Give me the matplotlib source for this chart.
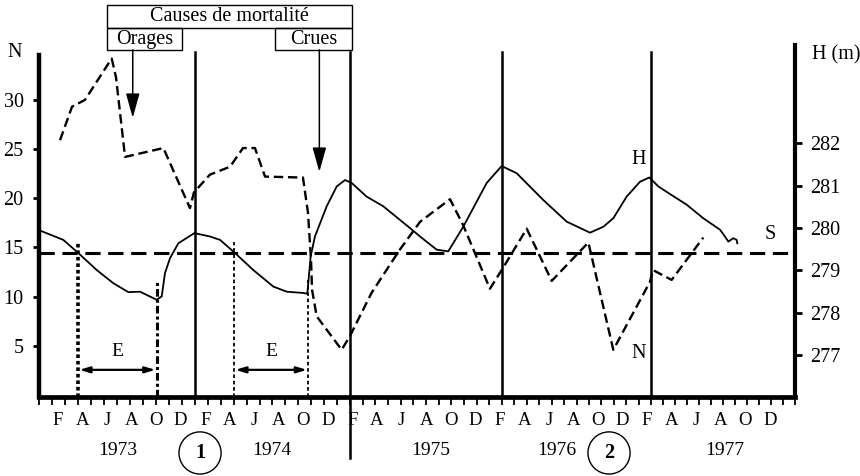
import numpy as np
import matplotlib
matplotlib.use('Agg')
import matplotlib.pyplot as plt
from matplotlib.patches import Rectangle

plt.rcParams['font.family'] = ['Liberation Serif', 'DejaVu Serif']

# --- données (x en mois depuis janvier 1973) ---
# N : effectif (pointillés)
N_month = [1.67, 2.62, 3.65, 5.77, 6.11, 6.83, 9.87, 11.98, 12.30, 13.57,
           15.16, 16.19, 17.14, 17.94, 20.95, 21.35, 21.59, 21.67, 22.04, 24.02,
           24.68, 26.40, 28.65, 30.24, 32.62, 33.65, 35.79, 36.72, 38.71, 40.69,
           43.60, 45.58, 48.49, 48.73, 50.21, 52.72]
N_val = [25.9, 29.3, 30.0, 34.2, 32.3, 24.2, 25.1, 19.0, 20.6, 22.4,
         23.2, 25.1, 25.1, 22.2, 22.1, 18.5, 13.7, 10.7, 8.0, 4.6,
         6.0, 10.4, 14.8, 17.6, 19.9, 17.3, 10.8, 12.7, 16.9, 11.6,
         15.5, 4.6, 11.5, 12.7, 11.7, 16.0]

# H : cote du plan d'eau (m)
H_month = [0.08, 1.93, 3.12, 4.58, 5.90, 7.09, 8.02, 9.34, 9.74, 10.0,
           10.4, 11.06, 12.33, 13.57, 14.37, 15.56, 17.01, 18.6, 19.66, 20.98,
           21.29, 21.37, 21.56, 21.9, 22.83, 23.63, 24.29, 24.82, 26.0, 27.33,
           28.65, 29.44, 30.24, 31.56, 32.48, 33.67, 35.53, 36.72, 37.91, 40.02,
           41.88, 43.73, 44.79, 45.58, 46.64, 47.70, 48.44, 49.15, 50.08, 51.40,
           52.72, 54.05, 54.44, 54.71, 55.10, 55.37, 55.42]
H_val = [279.94, 279.72, 279.41, 279.01, 278.70, 278.49, 278.50, 278.31, 278.39, 278.94,
         279.29, 279.64, 279.88, 279.80, 279.72, 279.41, 279.01, 278.62, 278.50, 278.47,
         278.45, 278.70, 279.33, 279.80, 280.51, 280.98, 281.13, 281.06, 280.74, 280.51,
         280.19, 280.00, 279.80, 279.49, 279.45, 280.03, 281.06, 281.46, 281.29, 280.66,
         280.15, 279.89, 280.03, 280.23, 280.74, 281.09, 281.19, 280.98, 280.80, 280.55,
         280.23, 279.96, 279.80, 279.68, 279.76, 279.72, 279.64]

S_level = 279.41

year_lines = [12.38, 24.68, 36.75, 48.57]
month_letters = ['F', 'A', 'J', 'A', 'O', 'D'] * 5
years = ['1973', '1974', '1975', '1976', '1977']
year_pos = [6.27, 18.5, 31.1, 41.1, 54.4]
circle_labels = ['1', '2']
circle_pos = [12.78, 45.24]

# périodes E (étiage)
E_start = [3.1, 15.48]
E_end = [9.34, 21.37]
E_top = [15.6, 11.7]

N_ticks = [5, 10, 15, 20, 25, 30]
H_ticks = [277, 278, 279, 280, 281, 282]

# --- figure ---
fig = plt.figure(figsize=(8.6, 4.76), dpi=100)
ax = fig.add_axes([39 / 860, 79 / 476, 756 / 860, 352 / 476])
ax2 = ax.twinx()

n_lo = -0.2
n_hi = n_lo + 352 / 9.84
h_lo = 276.02
h_hi = h_lo + 352 / 42.46
ax.set_xlim(0, 60)
ax.set_ylim(n_lo, n_hi)
ax2.set_ylim(h_lo, h_hi)

for s in ['top', 'right']:
    ax.spines[s].set_visible(False)
for s in ['top', 'left', 'bottom']:
    ax2.spines[s].set_visible(False)
ax.spines['left'].set_linewidth(3.2)
ax.spines['left'].set_bounds(n_lo, 34.6)
ax.spines['bottom'].set_linewidth(3.4)
ax2.spines['right'].set_linewidth(3.0)

# axes graduations
month_ticks = np.interp(np.arange(61), [0, 12, 24, 36, 48, 60],
                        [0] + year_lines + [60])
ax.set_xticks(month_ticks)
ax.set_xticklabels([])
ax.set_xticks(np.linspace(1.5, 58.0, 30), month_letters, minor=True)
ax.tick_params(axis='x', which='major', direction='out', length=6, width=1.3)
ax.tick_params(axis='x', which='minor', length=0, pad=11, labelsize=13.5)

ax.set_yticks(N_ticks)
ax.tick_params(axis='y', direction='out', length=4, width=2, pad=7, labelsize=14.5)
ax2.set_yticks(H_ticks)
ax2.tick_params(axis='y', direction='out', length=5, width=2, pad=6, labelsize=14.5)

# séparations annuelles
for i, xl in enumerate(year_lines):
    y0 = -6.38 if i == 1 else n_lo
    ax.plot([xl, xl], [y0, 34.88], color='black', lw=1.8, clip_on=False, zorder=3)

# séries
ax.plot(N_month, N_val, color='black', lw=1.7, ls=(0, (4, 2)), zorder=4,
        solid_joinstyle='round')
ax2.plot(H_month, H_val, color='black', lw=1.3, zorder=4, solid_joinstyle='round')
ax2.axhline(S_level, color='black', lw=2.2, ls=(0, (5, 2.5)), zorder=2)

# périodes E
styles = [(0, (1, 0.8)), (0, (2.5, 1, 1, 1)), (0, (2, 1.5)), (0, (2, 1.5))]
widths = [2.6, 2.2, 1.3, 1.3]
xs = [E_start[0], E_end[0], E_start[1], E_end[1]]
tops = [E_top[0], E_top[1], E_top[0], E_top[1]]
for xv, tp, st, w in zip(xs, tops, styles, widths):
    ax.plot([xv, xv], [n_lo, tp], color='black', lw=w, ls=st, zorder=3)
for a, b in zip(E_start, E_end):
    ax.annotate('', xy=(b - 0.1, 2.56), xytext=(a + 0.1, 2.56),
                arrowprops=dict(arrowstyle='<|-|>,head_length=0.6,head_width=0.18',
                                color='black', lw=1.6, shrinkA=0, shrinkB=0,
                                mutation_scale=10))
    ax.text((a + b) / 2, 4.4, 'E', ha='center', va='center', fontsize=14)

# causes de mortalité
ax.add_patch(Rectangle((5.37, 37.28), 24.82 - 5.37, 39.66 - 37.28, fill=False,
                       lw=1.0, clip_on=False))
ax.add_patch(Rectangle((5.37, 35.08), 11.37 - 5.37, 37.28 - 35.08, fill=False,
                       lw=1.0, clip_on=False))
ax.add_patch(Rectangle((18.73, 35.08), 24.82 - 18.73, 37.28 - 35.08, fill=False,
                       lw=1.0, clip_on=False))
ax.text((5.37 + 24.82) / 2, 38.47, 'Causes de mortalité', ha='center', va='center',
        fontsize=14.5, clip_on=False)
ax.text((5.37 + 11.37) / 2, 36.18, 'Orages', ha='center', va='center', fontsize=14.5)
ax.text((18.73 + 24.82) / 2, 36.18, 'Crues', ha='center', va='center', fontsize=14.5)
for xa, ya in [(7.44, 28.17), (22.25, 22.68)]:
    ax.annotate('', xy=(xa, ya), xytext=(xa, 35.08),
                arrowprops=dict(arrowstyle='-|>,head_length=1.5,head_width=0.42',
                                color='black', lw=1.1, shrinkA=0, shrinkB=0,
                                mutation_scale=10))

# étiquettes
ax.text(-1.9, 34.77, 'N', ha='center', va='center', fontsize=14.5, clip_on=False)
ax.text(61.33, 34.57, 'H (m)', ha='left', va='center', fontsize=14.5, clip_on=False)
ax.text(47.56, 23.9, 'H', ha='center', va='center', fontsize=14.5)
ax.text(58.02, 16.3, 'S', ha='center', va='center', fontsize=14.5)
ax.text(47.56, 4.26, 'N', ha='center', va='center', fontsize=14.5)

tr = ax.get_xaxis_transform()
for yr, xp in zip(years, year_pos):
    ax.text(xp, -0.1506, yr, transform=tr, ha='center', va='center', fontsize=14)
for lab, xp in zip(circle_labels, circle_pos):
    ax.text(xp, -0.159, lab, transform=tr, ha='center', va='center', fontsize=14.5,
            fontweight='bold',
            bbox=dict(boxstyle='circle,pad=0.55', fc='white', ec='black', lw=1.0))

fig.savefig('out.png', dpi=100)
